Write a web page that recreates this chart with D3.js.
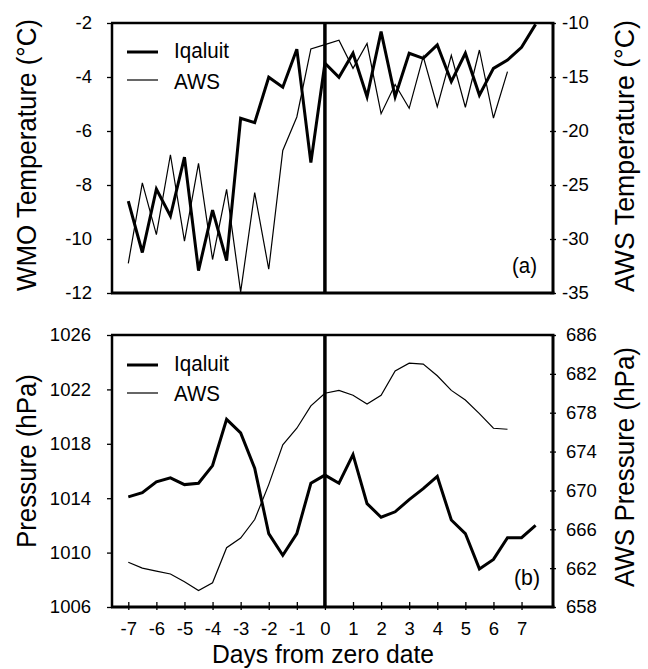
<!DOCTYPE html>
<html><head><meta charset="utf-8">
<script src="https://cdn.jsdelivr.net/npm/d3@7"></script>
<style>
body{margin:0;background:#fff;}
svg text{font-family:"Liberation Sans",Arial,sans-serif;fill:#000;}
</style></head>
<body><svg id="c" width="648" height="669"></svg>
<script>
// ---- data ----
const tempDaysIq = [-7,-6.5,-6,-5.5,-5,-4.5,-4,-3.5,-3,-2.5,-2,-1.5,-1,-0.5,0,0.5,1,1.5,2,2.5,3,3.5,4,4.5,5,5.5,6,6.5,7,7.5];
const tempIqaluit = [-8.6,-10.5,-8.15,-9.15,-6.97,-11.17,-8.93,-10.8,-5.53,-5.69,-4.01,-4.38,-2.97,-7.17,-3.49,-4.01,-3.12,-4.73,-2.32,-4.73,-3.12,-3.31,-2.81,-4.17,-3.12,-4.67,-3.68,-3.37,-2.9,-2.05];
const tempDaysAws = [-7,-6.5,-6,-5.5,-5,-4.5,-4,-3.5,-3,-2.5,-2,-1.5,-1,-0.5,0,0.5,1,1.5,2,2.5,3,3.5,4,4.5,5,5.5,6,6.5];
const tempAws = [-32.25,-24.8,-29.6,-22.2,-30.2,-23.0,-31.9,-25.4,-34.9,-25.7,-32.8,-21.8,-18.7,-12.4,-12.0,-11.6,-14.2,-11.9,-18.4,-15.7,-17.9,-13.1,-17.75,-13.0,-17.8,-12.5,-18.8,-14.5];
const presDaysIq = tempDaysIq;
const presIqaluit = [1014.1,1014.4,1015.2,1015.5,1015.0,1015.1,1016.4,1019.8,1018.8,1016.2,1011.4,1009.8,1011.4,1015.1,1015.7,1015.1,1017.2,1013.6,1012.6,1013.0,1013.9,1014.7,1015.6,1012.4,1011.4,1008.8,1009.5,1011.1,1011.1,1012.0];
const presDaysAws = tempDaysAws;
const presAws = [662.6,662.0,661.7,661.4,660.6,659.7,660.5,664.1,665.1,667.0,670.6,674.7,676.4,678.7,680.0,680.3,679.8,678.9,679.8,682.3,683.1,683.0,681.8,680.3,679.3,677.9,676.4,676.3];
const xTicks = [-7,-6,-5,-4,-3,-2,-1,0,1,2,3,4,5,6,7];
const wmoTicks = [-12,-10,-8,-6,-4,-2];
const awsTempTicks = [-35,-30,-25,-20,-15,-10];
const presTicks = [1006,1010,1014,1018,1022,1026];
const awsPresTicks = [658,662,666,670,674,678,682,686];

// ---- layout ----
const svg = d3.select("#c");
const L = 112, R = 553;
const top1 = 23, bot1 = 293, top2 = 335, bot2 = 607;
const x = d3.scaleLinear().domain([-7.58, 8.12]).range([L, R]);
const yWmo = d3.scaleLinear().domain([-12, -2]).range([bot1, top1]);
const yAwsT = d3.scaleLinear().domain([-35, -10]).range([bot1, top1]);
const yP = d3.scaleLinear().domain([1006, 1026]).range([bot2, top2]);
const yAwsP = d3.scaleLinear().domain([658, 686]).range([bot2, top2]);

const defs = svg.append("defs");
defs.append("clipPath").attr("id","clip1").append("rect").attr("x",L).attr("y",top1).attr("width",R-L).attr("height",bot1-top1);
defs.append("clipPath").attr("id","clip2").append("rect").attr("x",L).attr("y",top2).attr("width",R-L).attr("height",bot2-top2);

function drawLine(days, vals, ys, w, clip){
  const line = d3.line().x((d,i)=>x(days[i])).y(d=>ys(d));
  svg.append("path").datum(vals).attr("d", line).attr("fill","none")
    .attr("stroke","#000").attr("stroke-width", w).attr("stroke-linejoin","miter").attr("clip-path", "url(#"+clip+")");
}

function styleAxis(g, fs){
  g.select(".domain").remove();
  g.selectAll(".tick line").attr("stroke","#000").attr("stroke-width",1.3);
  g.selectAll(".tick text").attr("font-size", fs).attr("font-family","Liberation Sans, Arial, sans-serif").attr("fill","#000");
}
const minus = d => (d < 0 ? "-" + Math.abs(d) : String(d));

// panel a
drawLine(tempDaysAws, tempAws, yAwsT, 1.2, "clip1");
drawLine(tempDaysIq, tempIqaluit, yWmo, 3, "clip1");
// panel b
drawLine(presDaysAws, presAws, yAwsP, 1.2, "clip2");
drawLine(presDaysIq, presIqaluit, yP, 3, "clip2");

// axes
const gl1 = svg.append("g").attr("transform",`translate(${L},0)`).call(d3.axisLeft(yWmo).tickValues(wmoTicks).tickSize(5).tickPadding(15).tickFormat(minus));
styleAxis(gl1, "18.5px");
const gr1 = svg.append("g").attr("transform",`translate(${R},0)`).call(d3.axisRight(yAwsT).tickValues(awsTempTicks).tickSize(3).tickPadding(6).tickFormat(minus));
styleAxis(gr1, "18.5px");
gr1.selectAll(".tick line").attr("x1",-3).attr("x2",3);
const gl2 = svg.append("g").attr("transform",`translate(${L},0)`).call(d3.axisLeft(yP).tickValues(presTicks).tickSize(5).tickPadding(16).tickFormat(d3.format("d")));
styleAxis(gl2, "18.5px");
const gr2 = svg.append("g").attr("transform",`translate(${R},0)`).call(d3.axisRight(yAwsP).tickValues(awsPresTicks).tickSize(3).tickPadding(10).tickFormat(d3.format("d")));
styleAxis(gr2, "18.5px");
gr2.selectAll(".tick line").attr("x1",-3).attr("x2",3);
const gb = svg.append("g").attr("transform",`translate(0,${bot2})`).call(d3.axisBottom(x).tickValues(xTicks).tickSize(5).tickPadding(10).tickFormat(minus));
styleAxis(gb, "18.5px");
gb.selectAll(".tick line").attr("y1",-5).attr("y2",3);

// frames
function frame(t,b){
  svg.append("line").attr("x1",L-1).attr("x2",R+1.5).attr("y1",t).attr("y2",t).attr("stroke","#000").attr("stroke-width",2.5);
  svg.append("line").attr("x1",L-1).attr("x2",R+1.5).attr("y1",b).attr("y2",b).attr("stroke","#000").attr("stroke-width",3);
  svg.append("line").attr("x1",L).attr("x2",L).attr("y1",t).attr("y2",b).attr("stroke","#000").attr("stroke-width",2.5);
  svg.append("line").attr("x1",R).attr("x2",R).attr("y1",t).attr("y2",b).attr("stroke","#000").attr("stroke-width",3);
  svg.append("line").attr("x1",x(0)).attr("x2",x(0)).attr("y1",t).attr("y2",b).attr("stroke","#000").attr("stroke-width",3.5);
}
frame(top1,bot1);
frame(top2,bot2);

// legends
function ntext(xp, yp, fs, len, txt){
  return svg.append("text").attr("x",xp).attr("y",yp).attr("font-size",fs+"px")
    .attr("textLength",len).attr("lengthAdjust","spacingAndGlyphs").text(txt);
}
function legend(y1, y2, b1, b2){
  svg.append("line").attr("x1",127).attr("x2",158).attr("y1",y1).attr("y2",y1).attr("stroke","#000").attr("stroke-width",3);
  ntext(174, b1, 22, 55, "Iqaluit");
  svg.append("line").attr("x1",127).attr("x2",158).attr("y1",y2).attr("y2",y2).attr("stroke","#000").attr("stroke-width",1.2);
  ntext(174, b2, 22, 46, "AWS");
}
legend(52, 80, 58, 89);
legend(365, 393, 371, 401);

ntext(512, 273, 22, 25, "(a)");
ntext(514, 585, 22, 26, "(b)");

// axis titles
function vtitle(cx, cy, len, txt){
  svg.append("text").attr("transform",`translate(${cx},${cy}) rotate(-90)`).attr("text-anchor","middle")
    .attr("font-size","27px").attr("textLength",len).attr("lengthAdjust","spacingAndGlyphs").text(txt);
}
vtitle(36, 155, 272, "WMO Temperature (°C)");
vtitle(36, 461, 174, "Pressure (hPa)");
vtitle(634, 156, 272, "AWS Temperature (°C)");
vtitle(634, 467, 240, "AWS Pressure (hPa)");
svg.append("text").attr("x",323).attr("y",663).attr("text-anchor","middle").attr("font-size","25px")
  .attr("textLength",222).attr("lengthAdjust","spacingAndGlyphs").text("Days from zero date");
</script></body></html>
